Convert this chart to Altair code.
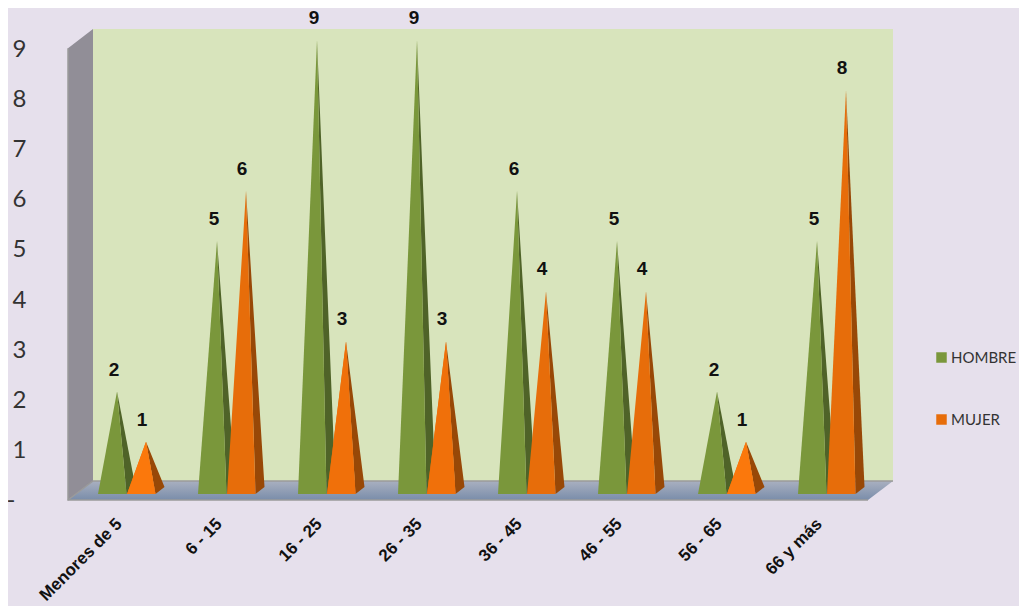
import altair as alt
import pandas as pd

categories = ["Menores de 5", "6 - 15", "16 - 25", "26 - 35", "36 - 45", "46 - 55", "56 - 65", "66 y más"]
hombre = [2, 5, 9, 9, 6, 5, 2, 5]
mujer = [1, 6, 3, 3, 4, 4, 1, 8]
y_ticks = [0, 1, 2, 3, 4, 5, 6, 7, 8, 9]

# projection of the 3D box, in axis units
DEPTH_U, DEPTH_V = 0.25, 0.38
BASE_V, APEX_V, CORNER_V = 0.12, 0.16, 0.26
X_SCALE = alt.Scale(domain=[-0.6, 9.51], nice=False, zero=False)
Y_SCALE = alt.Scale(domain=[-2.1116, 9.8008], nice=False, zero=False)


def pyramid_rows(values, series, start):
    rows = []
    for i, v in enumerate(values):
        left, right = i + start, i + start + 0.285
        apex_x, apex_v = left + 0.19, v + APEX_V
        corner_x = right + 0.09
        for x, y, y2 in [(left, BASE_V, BASE_V), (apex_x, apex_v, BASE_V), (right, BASE_V, BASE_V)]:
            rows.append(dict(group=i, series=series, face="front", value=v, x=x, y=y, y2=y2))
        t = (right - apex_x) / (corner_x - apex_x)
        mid = apex_v + (CORNER_V - apex_v) * t
        for x, y, y2 in [(apex_x, apex_v, apex_v), (right, mid, BASE_V), (corner_x, CORNER_V, CORNER_V)]:
            rows.append(dict(group=i, series=series, face="side", value=v, x=x, y=y, y2=y2))
    return rows


df = pd.DataFrame(pyramid_rows(hombre, "HOMBRE", 0.30) + pyramid_rows(mujer, "MUJER", 0.59))
labels = pd.DataFrame(
    [dict(x=i + 0.46, v=v, t=str(v)) for i, v in enumerate(hombre)]
    + [dict(x=i + 0.74, v=v, t=str(v)) for i, v in enumerate(mujer)]
)
n = len(categories)
wall_left = pd.DataFrame(dict(x=[0, DEPTH_U], y=[9, 9 + DEPTH_V], y2=[0, DEPTH_V]))
wall_back = pd.DataFrame(dict(x=[DEPTH_U, n + DEPTH_U], y=[9 + DEPTH_V] * 2, y2=[DEPTH_V] * 2))
floor = pd.DataFrame(dict(x=[0, DEPTH_U, n, n + DEPTH_U], y=[0, DEPTH_V, DEPTH_V, DEPTH_V], y2=[0, 0, 0, DEPTH_V]))
edges = pd.DataFrame(dict(
    edge=[0, 0, 0, 1, 1, 1],
    x=[0, 0, n, 0, DEPTH_U, n + DEPTH_U],
    y=[9, 0, 0, 0, DEPTH_V, DEPTH_V],
    step=[0, 1, 2, 0, 1, 2],
))

X = alt.X("x:Q", scale=X_SCALE, title=None)
Y = alt.Y("y:Q", scale=Y_SCALE, title=None, stack=None)


def panel(data, **mark):
    return alt.Chart(data).mark_area(**mark).encode(x=X, y=Y, y2="y2:Q")


axes = (
    alt.Chart(pd.DataFrame(dict(x=[0.5], y=[0])))
    .mark_point(opacity=0)
    .encode(
        x=alt.X(
            "x:Q",
            scale=X_SCALE,
            title=None,
            axis=alt.Axis(
                orient="bottom", offset=-85, values=[i + 0.51 for i in range(n)],
                labelExpr="%s[floor(datum.value)]" % str(categories),
                labelAngle=-45, labelAlign="right", labelBaseline="middle", labelPadding=0,
                labelFont="Liberation Sans", labelFontWeight="bold", labelFontSize=17, labelColor="#111111",
                domain=False, ticks=False, grid=False, labelOverlap=False, labelFlush=False,
            ),
        ),
        y=alt.Y(
            "y:Q",
            scale=Y_SCALE,
            title=None,
            axis=alt.Axis(
                orient="left", offset=-18, values=y_ticks,
                labelExpr="datum.value == 0 ? '-' : datum.label",
                labelPadding={"expr": "datum.value == 0 ? 11 : 0"},
                labelOffset=1,
                labelFont="Lato", labelFontSize=24, labelColor="#333333",
                domain=False, ticks=False, grid=False, labelOverlap=False, labelFlush=False,
            ),
        ),
    )
)


def faces(series, face, color):
    return (
        alt.Chart(df[(df.series == series) & (df.face == face)])
        .mark_area(color=color)
        .encode(x=X, y=Y, y2="y2:Q", detail="group:N")
    )


def front(series):
    return (
        alt.Chart(df[(df.series == series) & (df.face == "front")])
        .mark_area()
        .encode(
            x=X, y=Y, y2="y2:Q", detail="group:N",
            color=alt.Color(
                "series:N",
                scale=alt.Scale(domain=["HOMBRE", "MUJER"], range=["#7A973B", "#E76D0A"]),
                legend=alt.Legend(
                    orient="none", legendX=926, legendY=342, title=None, symbolType="square", symbolSize=110,
                    symbolStrokeWidth=0, labelFont="Lato", labelFontSize=15, labelColor="#333333",
                    rowPadding=46, labelOffset=2,
                ),
            ),
        )
    )


def bright(value, color):
    sel = df[(df.series == "MUJER") & (df.face == "front") & (df.value == value)]
    return alt.Chart(sel).mark_area(color=color).encode(x=X, y=Y, y2="y2:Q", detail="group:N")


text = (
    alt.Chart(labels)
    .mark_text(font="Liberation Sans", fontWeight="bold", fontSize=19, color="#111111", dy=-30)
    .encode(x=alt.X("x:Q", scale=X_SCALE, title=None), y=alt.Y("v:Q", scale=Y_SCALE, title=None), text="t:N")
)

frame_lines = (
    alt.Chart(edges)
    .mark_line(color="#9A9A9A", strokeWidth=1.5)
    .encode(x=X, y=alt.Y("y:Q", scale=Y_SCALE, title=None), detail="edge:N", order="step:Q")
)

floor_fill = alt.Gradient(
    gradient="linear", x1=0, y1=0, x2=0, y2=1,
    stops=[alt.GradientStop(color="#A9B0C0", offset=0), alt.GradientStop(color="#7A8DAA", offset=1)],
)

chart = alt.layer(
    axes,
    panel(wall_back, color="#D8E4BC"),
    panel(wall_left, color="#918E97"),
    panel(floor, color=floor_fill),
    frame_lines,
    faces("HOMBRE", "side", "#4F6328"),
    front("HOMBRE"),
    faces("MUJER", "side", "#984807"),
    front("MUJER"),
    bright(3, "#F0700A"),
    bright(1, "#FB780C"),
    text,
).properties(
    width=1011, height=598, background="#E6E0EC", padding=0,
    autosize=alt.AutoSizeParams(type="none"),
).configure_view(stroke=None)

chart.save("out.html", embed_options={"renderer": "svg", "actions": False})
